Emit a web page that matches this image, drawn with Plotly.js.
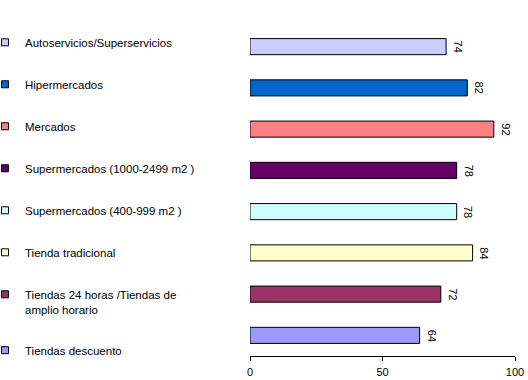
<!DOCTYPE html>
<html>
<head>
<meta charset="utf-8">
<script src="https://cdn.plot.ly/plotly-3.0.1.min.js"></script>
<style>html,body{margin:0;padding:0;background:#fff;}#chart{width:528px;height:380px;}</style>
</head>
<body>
<div id="chart"></div>
<script>
const categories = [
  "Autoservicios/Superservicios",
  "Hipermercados",
  "Mercados",
  "Supermercados (1000-2499 m2 )",
  "Supermercados (400-999 m2 )",
  "Tienda tradicional",
  "Tiendas 24 horas /Tiendas de<br>amplio horario",
  "Tiendas descuento"
];
const values = [74, 82, 92, 78, 78, 84, 72, 64];
const colors = ["#CCCCFF", "#0066CC", "#FF8080", "#660066", "#CCFFFF", "#FFFFCC", "#993366", "#9999FF"];
const xTicks = [0, 50, 100];

const font = "Arial, 'Liberation Sans', sans-serif";

const traces = [{
  type: "bar",
  orientation: "h",
  y: categories,
  x: values,
  marker: {color: colors, line: {color: "#000", width: 1}},
  showlegend: false,
  hoverinfo: "x+y"
}];
categories.forEach((c, i) => {
  traces.push({
    type: "scatter",
    mode: "markers",
    x: [null],
    y: [null],
    name: c,
    legendgroup: "g" + i,
    marker: {symbol: "square", size: 7, color: colors[i], line: {color: "#000", width: 1}},
    showlegend: true
  });
});

const annotations = values.map((v, i) => ({
  x: v,
  y: categories[i],
  xref: "x",
  yref: "y",
  text: String(v),
  showarrow: false,
  textangle: 90,
  xanchor: "left",
  yanchor: "middle",
  xshift: 4,
  font: {family: font, size: 11, color: "#000"}
}));

const layout = {
  width: 528,
  height: 380,
  paper_bgcolor: "#fff",
  plot_bgcolor: "#fff",
  margin: {l: 250, r: 13, t: 26, b: 24, autoexpand: false},
  barmode: "overlay",
  bargap: 0.61,
  showlegend: true,
  annotations: annotations,
  legend: {
    x: -1.0, xanchor: "left",
    y: 0.993, yanchor: "top",
    valign: "top",
    tracegroupgap: 23,
    font: {family: font, size: 11.5, color: "#000"},
    bgcolor: "rgba(0,0,0,0)",
    borderwidth: 0
  },
  xaxis: {
    range: [0, 100],
    tickvals: xTicks,
    ticktext: xTicks.map(String),
    ticks: "outside",
    ticklen: 4,
    tickcolor: "#000",
    showline: true,
    linecolor: "#000",
    linewidth: 1,
    showgrid: false,
    zeroline: false,
    ticklabelstandoff: 2,
    tickfont: {family: font, size: 11, color: "#000"}
  },
  yaxis: {
    type: "category",
    categoryorder: "array",
    categoryarray: categories,
    autorange: "reversed",
    showticklabels: false,
    showline: false,
    showgrid: false,
    zeroline: false,
    ticks: ""
  }
};

Plotly.newPlot("chart", traces, layout, {displayModeBar: false, staticPlot: true});
</script>
</body>
</html>
